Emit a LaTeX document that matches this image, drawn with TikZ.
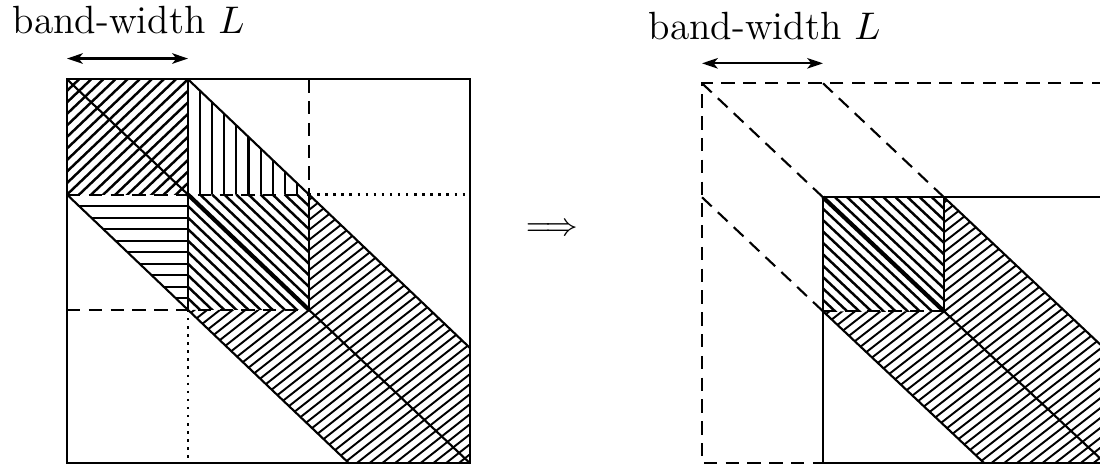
\documentclass[tikz,border=0pt]{standalone}
\usetikzlibrary{arrows.meta}

% size of the matrix in units of the band-width L
\newcommand{\msize}{3.33}

\tikzset{
  boxline/.style={line width=0.6pt},
  hatchline/.style={line width=0.7pt},
  finehatch/.style={line width=0.55pt},
  diagline/.style={line width=1.2pt},
  cutline/.style={line width=0.6pt, dash pattern=on 3.8pt off 2.4pt},
  dotline/.style={line width=0.7pt, dash pattern=on 0.7pt off 1.6pt},
  bwarrow/.style={{Stealth[length=4.5pt,width=3pt,inset=1.2pt]}-{Stealth[length=4.5pt,width=3pt,inset=1.2pt]}, line width=0.6pt},
  bwtext/.style={inner sep=0pt, anchor=base west, font=\fontsize{11.2pt}{13pt}\selectfont}
}

\begin{document}
\begin{tikzpicture}
\useasboundingbox (0,0) rectangle (11,-4.66);

% Labels
\node[bwtext] (bwleft) at (0.12,-0.335) {band-width $L$};
\node[bwtext] (bwright) at (6.48,-0.40) {band-width $L$};
\node[inner sep=0pt, font=\fontsize{9pt}{11pt}\selectfont] (implies) at (5.52,-2.30) {$\Longrightarrow$};

% Left matrix
\begin{scope}[shift={(0.67,-0.793)}, x=1.21cm, y=-1.153cm]
% first diagonal block
\begin{scope}
\clip (0,0) rectangle (1,1);
\foreach \k in {1,...,19} \draw[hatchline] (\k/10,0) -- (0,\k/10);
\end{scope}
% upper triangle
\begin{scope}
\clip (1,0) -- (2,1) -- (1,1) -- cycle;
\foreach \k in {1,...,9} \draw[boxline] (1+\k/10,0) -- (1+\k/10,1);
\end{scope}
% lower triangle
\begin{scope}
\clip (0,1) -- (1,1) -- (1,2) -- cycle;
\foreach \k in {1,...,9} \draw[boxline] (0,1+\k/10) -- (1,1+\k/10);
\end{scope}
% second diagonal block
\begin{scope}
\clip (1,1) rectangle (2,2);
\foreach \k in {-9,...,9} \draw[hatchline] (1+\k/10,1) -- (3+\k/10,3);
\end{scope}
% rest of the band
\begin{scope}
\clip (2,1) -- (\msize,\msize-1) -- (\msize,\msize) -- (\msize-1,\msize) -- (1,2) -- (2,2) -- cycle;
\foreach \k in {30,...,72} \draw[finehatch] (0,\k/11.5) -- ++(4,-3.3);
\end{scope}

% Outlines
\draw[boxline] (0,0) rectangle (\msize,\msize);
\draw[boxline] (1,0) -- (\msize,\msize-1);
\draw[boxline] (0,1) -- (\msize-1,\msize);
\draw[boxline] (0,0) -- (\msize,\msize);
\draw[diagline] (1,1) -- (2,2);
\draw[boxline] (1,0) -- (1,2);
\draw[boxline] (2,1) -- (2,2);
\draw[cutline] (2,0) -- (2,1);
\draw[cutline] (0,1) -- (2,1);
\draw[cutline] (0,2) -- (2,2);
\draw[dotline] (2,1) -- (\msize,1);
\draw[dotline] (1,2) -- (1,\msize);

% Band-width
\coordinate (la) at (0,-0.18);
\coordinate (lb) at (1,-0.18);
\draw[bwarrow] (la) -- (lb);
\end{scope}

% Right matrix
\begin{scope}[shift={(7.02,-0.833)}, x=1.21cm, y=-1.14cm]
% second diagonal block
\begin{scope}
\clip (1,1) rectangle (2,2);
\foreach \k in {-9,...,9} \draw[hatchline] (1+\k/10,1) -- (3+\k/10,3);
\end{scope}
% rest of the band
\begin{scope}
\clip (2,1) -- (\msize,\msize-1) -- (\msize,\msize) -- (\msize-1,\msize) -- (1,2) -- (2,2) -- cycle;
\foreach \k in {30,...,72} \draw[finehatch] (0,\k/11.5) -- ++(4,-3.3);
\end{scope}

% Old matrix
\draw[cutline] (\msize,0) -- (0,0) -- (0,\msize) -- (1,\msize);
\draw[cutline] (0,0) -- (1,1);
\draw[cutline] (1,0) -- (2,1);
\draw[cutline] (0,1) -- (1,2);

% Remaining matrix
\draw[boxline] (1,1) rectangle (\msize,\msize);
\draw[boxline] (2,1) -- (\msize,\msize-1);
\draw[boxline] (1,2) -- (\msize-1,\msize);
\draw[boxline] (2,2) -- (\msize,\msize);
\draw[diagline] (1,1) -- (2,2);
\draw[boxline] (2,1) -- (2,2);
\draw[cutline] (1,2) -- (2,2);

% Band-width
\coordinate (ra) at (0,-0.175);
\coordinate (rb) at (1,-0.175);
\draw[bwarrow] (ra) -- (rb);
\end{scope}
\end{tikzpicture}
\end{document}
